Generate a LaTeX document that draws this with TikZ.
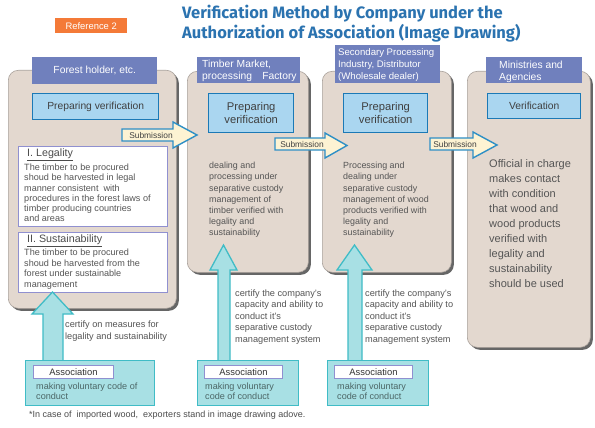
\documentclass[tikz,border=0pt]{standalone}
\usepackage{fontspec}
\setmainfont{Liberation Sans}
\newfontfamily\titlefont{Fira Sans}
\usetikzlibrary{shadows}
\definecolor{panelfill}{HTML}{E3D8CF}
\definecolor{panelline}{HTML}{A8A09A}
\definecolor{headfill}{HTML}{7080BD}
\definecolor{titleblue}{HTML}{2B73B0}
\definecolor{txtgray}{HTML}{555555}
\definecolor{verfill}{HTML}{AAD6F0}
\definecolor{verline}{HTML}{1B79B6}
\definecolor{subfill}{HTML}{FDF3D3}
\definecolor{subline}{HTML}{2E8FC6}
\definecolor{cyfill}{HTML}{A8E0E4}
\definecolor{cyline}{HTML}{40BCC6}
\definecolor{lblline}{HTML}{9090D0}
\definecolor{refor}{HTML}{F47A38}
\tikzset{
  panel/.style={anchor=north west, rounded corners=10pt, fill=panelfill, draw=panelline, line width=0.6pt,
    drop shadow={shadow xshift=2.5pt, shadow yshift=-2.5pt, fill=black!60, opacity=1}, inner sep=0pt},
  headbox/.style={anchor=north west, fill=headfill, draw=none, inner sep=0pt},
  headtxt/.style={anchor=north west, inner sep=0pt, text=white, font=\fontsize{10.3}{12}\selectfont, align=left},
  verbox/.style={anchor=north west, fill=verfill, draw=verline, line width=1.4pt, inner sep=0pt,
    text=black!75, align=center},
  bodytxt/.style={anchor=north west, inner sep=0pt, text=txtgray, align=left, font=\fontsize{8.9}{11.2}\selectfont},
  certtxt/.style={anchor=north west, inner sep=0pt, text=txtgray, align=left, font=\fontsize{9.2}{11.5}\selectfont},
  critbox/.style={anchor=north west, fill=white, draw=lblline, line width=0.8pt, inner sep=0pt},
  crithead/.style={anchor=north west, inner sep=0pt, text=black!70, font=\fontsize{10.7}{12}\selectfont},
  subarrow/.style={fill=subfill, draw=subline, line width=1.4pt, line join=miter},
  subtxt/.style={inner sep=0pt, text=black!75, font=\fontsize{8.4}{10}\selectfont},
  uparrow/.style={fill=cyfill, draw=cyline, line width=1.3pt, line join=miter},
  assocbox/.style={anchor=north west, fill=cyfill, draw=cyline, line width=1.3pt, inner sep=0pt},
  lblbox/.style={anchor=north west, fill=white, draw=lblline, line width=0.9pt, inner sep=0pt,
    text=black!80, font=\fontsize{9.4}{10}\selectfont},
  assoctxt/.style={anchor=north west, inner sep=0pt, text=txtgray!90!cyan, align=left, font=\fontsize{9.1}{10}\selectfont}
}
\begin{document}
\begin{tikzpicture}[x=1pt,y=-1pt]
\useasboundingbox (0,0) rectangle (595,428);
\fill[white] (0,0) rectangle (595,428);

% title
\node[anchor=north west, fill=refor, minimum width=72, minimum height=15, inner sep=0pt,
  text=white, font=\fontsize{9.4}{10}\selectfont] (ref) at (55,18) {Reference 2};
\node[anchor=north west, inner sep=0pt, align=left, text=titleblue,
  font=\titlefont\bfseries\fontsize{16.5}{20}\selectfont] (title) at (182,5)
  {Verification Method by Company under the\\Authorization of Association (Image Drawing)};

% panels
\node[panel, minimum width=168, minimum height=238] (p1) at (8,70) {};
\node[panel, minimum width=121, minimum height=201] (p2) at (187,71) {};
\node[panel, minimum width=129, minimum height=201] (p3) at (322,71) {};
\node[panel, minimum width=123, minimum height=276] (p4) at (467,71) {};

% headers
\node[headbox, minimum width=125, minimum height=27] (h1) at (32,57) {};
\node[text=white, inner sep=0pt, font=\fontsize{10.3}{12}\selectfont] (h1t) at (h1.center) {Forest holder, etc.};
\node[headbox, minimum width=103, minimum height=26] (h2) at (197,57) {};
\node[headtxt] (h2t) at (202,60) {Timber Market,\\processing\quad Factory};
\node[headbox, minimum width=105, minimum height=38] (h3) at (335,45) {};
\node[headtxt, font=\fontsize{9.6}{12}\selectfont] (h3t) at (338,48) {Secondary Processing\\Industry, Distributor\\(Wholesale dealer)};
\node[headbox, minimum width=96, minimum height=26] (h4) at (486,57) {};
\node[headtxt] (h4t) at (499,61) {Ministries and\\Agencies};

% verification boxes
\node[verbox, minimum width=126, minimum height=26, font=\fontsize{10.3}{12}\selectfont] (v1) at (32,93) {Preparing verification};
\node[verbox, minimum width=85, minimum height=39, font=\fontsize{11.2}{12.5}\selectfont] (v2) at (208,93) {Preparing\\verification};
\node[verbox, minimum width=84, minimum height=39, font=\fontsize{11.2}{12.5}\selectfont] (v3) at (343,93) {Preparing\\verification};
\node[verbox, minimum width=93, minimum height=25, font=\fontsize{10.3}{12}\selectfont] (v4) at (487,93) {Verification};

% criteria boxes in panel 1
\node[critbox, minimum width=149, minimum height=80] (leg) at (18,146) {};
\node[crithead] (legh) at (27,149) {\underline{I. Legality}};
\node[bodytxt, font=\fontsize{9.1}{10.2}\selectfont] (legt) at (24,164)
  {The timber to be procured\\shoud be harvested in legal\\manner consistent\ \ with\\procedures in the forest laws of\\timber producing countries\\and areas};
\node[critbox, minimum width=149, minimum height=60] (sus) at (18,232) {};
\node[crithead] (sush) at (27,235) {\underline{II. Sustainability}};
\node[bodytxt, font=\fontsize{9.1}{10.5}\selectfont] (sust) at (24,249)
  {The timber to be procured\\shoud be harvested from the\\forest under sustainable\\management};

% panel body texts
\node[bodytxt] (b2) at (209,162) {dealing and\\processing under\\separative custody\\management of\\timber verified with\\legality and\\sustainability};
\node[bodytxt] (b3) at (343,162) {Processing and\\dealing under\\separative custody\\management of wood\\products verified with\\legality and\\sustainability};
\node[bodytxt, font=\fontsize{11}{15}\selectfont] (b4) at (489,159) {Official in charge\\makes contact\\with condition\\that wood and\\wood products\\verified with\\legality and\\sustainability\\should be used};

% submission arrows
\draw[subarrow] (122,129) -- (173,129) -- (173,122) -- (197,135) -- (173,148) -- (173,141) -- (122,141) -- cycle;
\node[subtxt] (s1) at (151,135) {Submission};
\draw[subarrow] (275,138) -- (325,138) -- (325,133) -- (347,145.5) -- (325,158) -- (325,150) -- (275,150) -- cycle;
\node[subtxt] (s2) at (302,144.5) {Submission};
\draw[subarrow] (430,138) -- (473,138) -- (473,132) -- (497,145) -- (473,158) -- (473,150) -- (430,150) -- cycle;
\node[subtxt] (s3) at (455,144.5) {Submission};

% upward arrows
\draw[uparrow] (43,361) -- (43,314) -- (32,314) -- (52.5,292) -- (73,314) -- (63,314) -- (63,361) -- cycle;
\draw[uparrow] (218,361) -- (218,270) -- (210,270) -- (223.5,245) -- (237,270) -- (230,270) -- (230,361) -- cycle;
\draw[uparrow] (348,361) -- (348,270) -- (337,270) -- (354.5,245) -- (372,270) -- (362,270) -- (362,361) -- cycle;

% certify texts
\node[certtxt] (c1) at (65,321) {certify on measures for\\legality and sustainability};
\node[certtxt] (c2) at (235,289.5) {certify the company's\\capacity and ability to\\conduct it's\\separative custody\\management system};
\node[certtxt] (c3) at (365,289.5) {certify the company's\\capacity and ability to\\conduct it's\\separative custody\\management system};

% association boxes
\node[assocbox, minimum width=129, minimum height=45] (a1) at (25,360) {};
\node[lblbox, minimum width=80, minimum height=13] (l1) at (33,365) {Association};
\node[assoctxt] (m1) at (36,382.5) {making voluntary code of\\conduct};
\node[assocbox, minimum width=101, minimum height=45] (a2) at (197,360) {};
\node[lblbox, minimum width=78, minimum height=13] (l2) at (204,365) {Association};
\node[assoctxt] (m2) at (205,382.5) {making voluntary\\code of conduct};
\node[assocbox, minimum width=101, minimum height=45] (a3) at (327,360) {};
\node[lblbox, minimum width=78, minimum height=13] (l3) at (334,365) {Association};
\node[assoctxt] (m3) at (337,382.5) {making voluntary\\code of conduct};

% footnote
\node[anchor=north west, inner sep=0pt, text=black!70, font=\fontsize{9}{10}\selectfont] (fn) at (29,410.5)
  {*In case of\ \ imported wood,\ \ exporters stand in image drawing adove.};
\end{tikzpicture}
\end{document}
